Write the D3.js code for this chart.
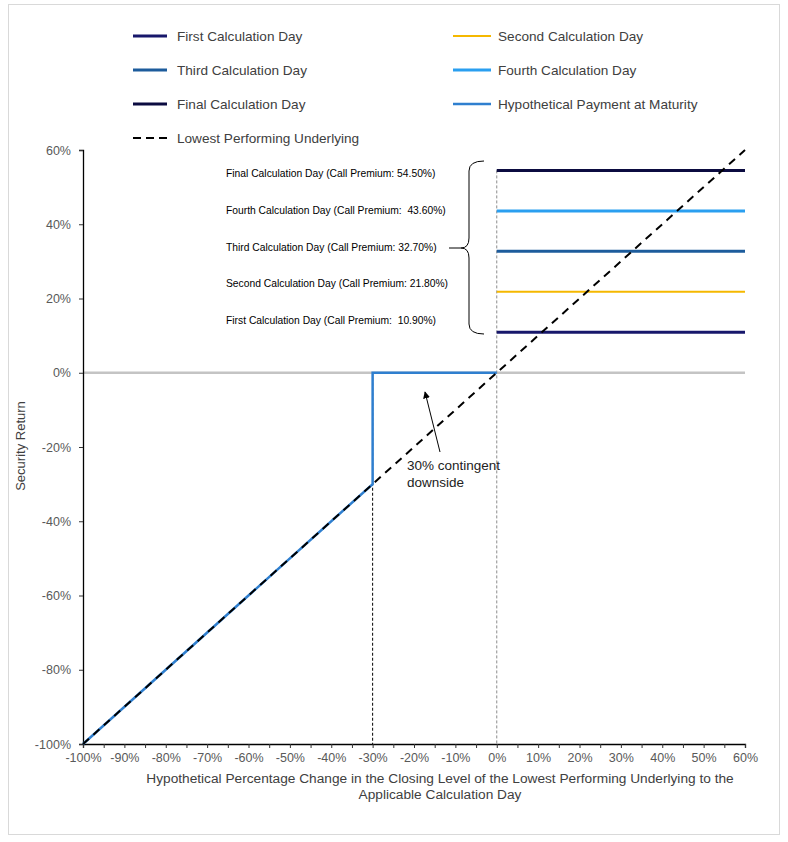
<!DOCTYPE html>
<html>
    <head>
        <title>Security Return</title>
        <meta charset="UTF-8">
        <script type="text/javascript" src="https://cdn.jsdelivr.net/npm/d3@7"></script>
        <style type="text/css">
            body { margin: 0; background: #fff; }
            text { font-family: "Liberation Sans", Arial, sans-serif; }
        </style>
    </head>
    <body>
        <div id="chart"></div>

        <script type="text/javascript">
            // call premium levels, one per calculation day
            var dayNames = ["First Calculation Day", "Second Calculation Day", "Third Calculation Day",
                "Fourth Calculation Day", "Final Calculation Day"];
            var premiums = [10.9, 21.8, 32.7, 43.6, 54.5];
            var premiumLabels = ["54.50%", " 43.60%", "32.70%", "21.80%", " 10.90%"];
            var dayColors = ["#17176b", "#f5b800", "#1d5c9c", "#2a9ff0", "#0b0b40"];
            var dayWidths = [3, 2, 3, 3, 3];

            // hypothetical payment at maturity (below the 0% underlying level)
            var payX = [-100, -30, -30, 0];
            var payY = [-100, -30, 0, 0];
            var payColor = "#2f7fcf";

            // lowest performing underlying
            var undX = [-100, 60];
            var undY = [-100, 60];

            var xTicks = d3.range(-100, 61, 5);
            var yTicks = d3.range(-100, 61, 20);

            var svgW = 788, svgH = 842;
            var x = d3.scaleLinear().domain([-100, 60]).range([83, 745]);
            var y = d3.scaleLinear().domain([-100, 60]).range([744, 150]);

            var svg = d3.select("#chart").append("svg")
                    .attr("width", svgW)
                    .attr("height", svgH);

            // outer frame
            svg.append("rect")
                    .attr("x", 8.5).attr("y", 4.5)
                    .attr("width", 771).attr("height", 830)
                    .attr("fill", "none")
                    .attr("stroke", "#d9d9d9");

            // legend
            var legendItems = [
                {name: dayNames[0], color: dayColors[0], w: 3},
                {name: dayNames[1], color: dayColors[1], w: 2},
                {name: dayNames[2], color: dayColors[2], w: 3},
                {name: dayNames[3], color: dayColors[3], w: 3},
                {name: dayNames[4], color: dayColors[4], w: 3},
                {name: "Hypothetical Payment at Maturity", color: payColor, w: 2.5},
                {name: "Lowest Performing Underlying", color: "#000", w: 2, dash: "8,5"}
            ];
            var leg = svg.selectAll("g.leg")
                    .data(legendItems)
                    .enter()
                    .append("g")
                    .attr("class", "leg")
                    .attr("transform", function (d, i) {
                        return "translate(" + (i % 2 === 0 ? 133 : 453) + "," + (36 + Math.floor(i / 2) * 34) + ")";
                    });
            leg.append("line")
                    .attr("x1", 0).attr("x2", function (d, i) { return i % 2 === 0 ? 34 : 38; })
                    .attr("stroke", function (d) { return d.color; })
                    .attr("stroke-width", function (d) { return d.w; })
                    .attr("stroke-dasharray", function (d) { return d.dash || null; });
            leg.append("text")
                    .attr("x", function (d, i) { return i % 2 === 0 ? 44 : 45; })
                    .attr("dy", "0.35em")
                    .attr("font-size", 13.6)
                    .attr("fill", "#404040")
                    .text(function (d) { return d.name; });

            // 0% line
            svg.append("line")
                    .attr("x1", x(-100)).attr("x2", x(60))
                    .attr("y1", y(0)).attr("y2", y(0))
                    .attr("stroke", "#c4c4c4").attr("stroke-width", 2.5);

            // reference verticals
            svg.append("line")
                    .attr("x1", x(0)).attr("x2", x(0))
                    .attr("y1", y(d3.max(premiums))).attr("y2", y(-100))
                    .attr("stroke", "#8c8c8c").attr("stroke-width", 1)
                    .attr("stroke-dasharray", "3,2");
            svg.append("line")
                    .attr("x1", x(-30)).attr("x2", x(-30))
                    .attr("y1", y(0)).attr("y2", y(-100))
                    .attr("stroke", "#000").attr("stroke-width", 1)
                    .attr("stroke-dasharray", "3,2");

            // axes
            var yAxis = svg.append("g")
                    .attr("transform", "translate(" + x(-100) + ",0)")
                    .call(d3.axisLeft(y).tickValues(yTicks).tickSize(4).tickPadding(8)
                            .tickFormat(function (d) { return d + "%"; }));
            var xAxis = svg.append("g")
                    .attr("transform", "translate(0," + y(-100) + ")")
                    .call(d3.axisBottom(x).tickValues(xTicks).tickSize(4).tickPadding(5)
                            .tickFormat(function (d) { return d % 10 === 0 ? d + "%" : ""; }));
            [xAxis, yAxis].forEach(function (a) {
                a.select(".domain").attr("stroke", "#000").attr("stroke-width", 1.3);
                a.selectAll(".tick line").attr("stroke", "#333");
                a.selectAll(".tick text")
                        .attr("font-size", 12.5)
                        .attr("font-family", "'Liberation Sans', Arial, sans-serif")
                        .attr("fill", "#595959");
            });

            // calculation day lines
            svg.selectAll("line.premium")
                    .data(premiums)
                    .enter()
                    .append("line")
                    .attr("class", "premium")
                    .attr("x1", x(0)).attr("x2", x(60))
                    .attr("y1", function (d) { return y(d); })
                    .attr("y2", function (d) { return y(d); })
                    .attr("stroke", function (d, i) { return dayColors[i]; })
                    .attr("stroke-width", function (d, i) { return dayWidths[i]; });

            // payment at maturity
            var payLine = d3.line()
                    .x(function (d) { return x(d[0]); })
                    .y(function (d) { return y(d[1]); });
            svg.append("path")
                    .attr("d", payLine(d3.zip(payX, payY)))
                    .attr("fill", "none")
                    .attr("stroke", payColor)
                    .attr("stroke-width", 2.5);

            // lowest performing underlying
            svg.append("path")
                    .attr("d", payLine(d3.zip(undX, undY)))
                    .attr("fill", "none")
                    .attr("stroke", "#000")
                    .attr("stroke-width", 2)
                    .attr("stroke-dasharray", "8,6");

            // call premium labels (listed top to bottom)
            var labelNames = dayNames.slice().reverse();
            svg.selectAll("text.prem")
                    .data(premiumLabels)
                    .enter()
                    .append("text")
                    .attr("class", "prem")
                    .attr("x", 226)
                    .attr("y", function (d, i) { return 177 + i * 36.8; })
                    .attr("font-size", 10.3)
                    .attr("fill", "#000")
                    .style("white-space", "pre")
                    .text(function (d, i) { return labelNames[i] + " (Call Premium: " + d + ")"; });

            // brace
            svg.append("path")
                    .attr("d", "M484,161 Q469,161 469,171 L469,238 Q469,248 461,248 Q469,248 469,258 L469,324 Q469,334 484,334")
                    .attr("fill", "none").attr("stroke", "#000").attr("stroke-width", 1);
            svg.append("line")
                    .attr("x1", 449).attr("x2", 461)
                    .attr("y1", 248).attr("y2", 248)
                    .attr("stroke", "#000").attr("stroke-width", 1);

            // contingent downside callout
            svg.append("defs").append("marker")
                    .attr("id", "arrow")
                    .attr("viewBox", "0 0 10 10")
                    .attr("refX", 9).attr("refY", 5)
                    .attr("markerWidth", 7).attr("markerHeight", 7)
                    .attr("orient", "auto")
                    .append("path")
                    .attr("d", "M0,0 L10,5 L0,10 z")
                    .attr("fill", "#000");
            svg.append("line")
                    .attr("x1", 440).attr("y1", 452)
                    .attr("x2", 425).attr("y2", 392)
                    .attr("stroke", "#000").attr("stroke-width", 1)
                    .attr("marker-end", "url(#arrow)");
            svg.append("text")
                    .attr("x", 407).attr("y", 470)
                    .attr("font-size", 13.5).attr("fill", "#222")
                    .text("30% contingent");
            svg.append("text")
                    .attr("x", 407).attr("y", 487)
                    .attr("font-size", 13.5).attr("fill", "#222")
                    .text("downside");

            // axis titles
            svg.append("text")
                    .attr("transform", "translate(25," + 446 + ") rotate(-90)")
                    .attr("text-anchor", "middle")
                    .attr("font-size", 13).attr("fill", "#404040")
                    .text("Security Return");
            svg.append("text")
                    .attr("x", 440).attr("y", 783)
                    .attr("text-anchor", "middle")
                    .attr("font-size", 13.7).attr("fill", "#404040")
                    .text("Hypothetical Percentage Change in the Closing Level of the Lowest Performing Underlying to the");
            svg.append("text")
                    .attr("x", 440).attr("y", 799)
                    .attr("text-anchor", "middle")
                    .attr("font-size", 13.7).attr("fill", "#404040")
                    .text("Applicable Calculation Day");
        </script>
    </body>
</html>
